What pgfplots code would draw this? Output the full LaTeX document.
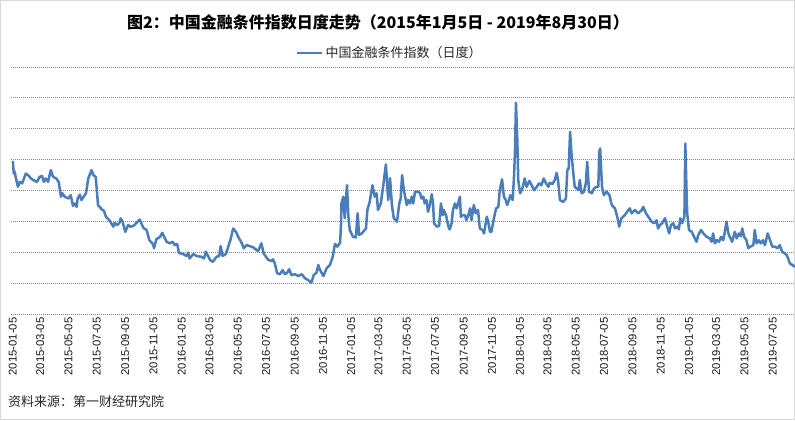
\documentclass[border=0pt]{standalone}
\usepackage{fontspec}
\usepackage{pgfplots}
\pgfplotsset{compat=1.18}
\newfontfamily\cjk{Noto Sans CJK SC}
\newfontfamily\tickfont{Liberation Sans}
\definecolor{fciblue}{RGB}{74,126,187}
\definecolor{gridgray}{RGB}{134,134,134}

\begin{document}
\begin{tikzpicture}[x=1bp,y=1bp]
\useasboundingbox (0,0) rectangle (795,420);
\draw[black!15, line width=0.8bp] (0.4,0.4) rectangle (794.6,419.6);
\begin{axis}[
    at={(11bp,106bp)}, anchor=south west,
    scale only axis, width=784bp, height=247bp,
    xmin=-4, xmax=1690, ymin=0, ymax=80,
    axis line style={draw=none},
    major tick length=0pt,
    ytick={0,10,...,80}, yticklabels={},
    ymajorgrids,
    major grid style={gridgray, line width=0.8bp, dash pattern=on 0.9bp off 1.1bp},
    % days since 2015-01-05
    xtick={0,59,120,181,243,304,365,425,486,547,609,670,731,790,851,912,974,1035,1096,1155,1216,1277,1339,1400,1461,1520,1581,1642},
    xticklabels={2015-01-05,2015-03-05,2015-05-05,2015-07-05,2015-09-05,2015-11-05,2016-01-05,2016-03-05,2016-05-05,2016-07-05,2016-09-05,2016-11-05,2017-01-05,2017-03-05,2017-05-05,2017-07-05,2017-09-05,2017-11-05,2018-01-05,2018-03-05,2018-05-05,2018-07-05,2018-09-05,2018-11-05,2019-01-05,2019-03-05,2019-05-05,2019-07-05},
    xticklabel style={rotate=90, anchor=east, font=\tickfont\fontsize{11.3bp}{13bp}\selectfont, text=black!90},
    legend style={at={(0.4834,1)}, anchor=center, yshift=14bp, draw=none, fill=none,
        font=\cjk\fontsize{13bp}{15bp}\selectfont, text=black!85},
    legend image code/.code={\draw[#1] (0bp,0bp) -- (25bp,0bp);},
    clip=false,
]
\addplot[fciblue, line width=2.5bp, line join=round] coordinates {
(0,49.6) (2,45.5) (4,46.1) (6,44.4) (11,41.2) (15,42.8) (20,42.3) (28,45.5) (35,44.7) (39,43.9)
(44,43.4) (52,42.8) (58,44.4) (63,44.7) (67,42.8) (71,43.9) (76,42.8) (82,46.6) (87,44.4) (94,43.9)
(99,42.8) (104,38.0) (107,39.1) (112,38.0) (120,37.4) (125,38.5) (130,35.0) (134,35.8) (138,34.7) (140,37.4)
(145,38.7) (148,36.9) (153,38.0) (158,39.1) (163,43.9) (170,46.6) (174,45.0) (179,44.4) (182,39.1) (184,35.3)
(192,33.9) (197,33.4) (201,31.5) (210,30.1) (217,28.3) (220,29.5) (225,28.8) (230,29.4) (233,31.0) (237,29.9)
(243,26.6) (249,28.8) (254,28.3) (260,28.5) (264,29.0) (274,30.6) (282,27.9) (289,27.2) (295,23.9) (303,22.6)
(305,21.3) (310,24.2) (318,25.0) (323,26.3) (332,23.4) (339,22.9) (345,23.4) (350,22.3) (355,22.7) (359,19.8)
(368,19.4) (375,18.8) (379,19.8) (382,18.0) (390,19.4) (397,18.8) (408,18.5) (413,18.0) (417,20.2) (426,17.5)
(432,16.9) (440,18.5) (446,18.8) (449,22.0) (453,18.8) (460,19.4) (465,21.6) (470,23.9) (476,27.7) (482,26.6)
(487,25.0) (494,23.1) (499,21.3) (505,22.3) (512,22.0) (519,21.6) (525,20.9) (530,20.4) (537,22.9) (542,19.6)
(548,18.3) (552,17.5) (559,17.2) (562,17.7) (566,16.4) (571,13.2) (577,12.9) (583,14.2) (588,12.9) (593,13.4)
(597,14.5) (602,12.6) (609,12.9) (617,12.3) (624,12.9) (631,11.6) (638,11.0) (645,10.1) (650,12.6) (656,13.4)
(660,15.9) (663,14.5) (671,12.3) (678,14.8) (685,15.9) (691,18.5) (696,22.7) (701,21.8) (707,23.1) (709,28.8)
(710,35.8) (714,38.0) (717,31.0) (722,41.7) (725,31.5) (728,27.2) (735,25.0) (741,24.8) (745,32.6) (748,25.6)
(754,26.1) (763,27.7) (766,33.7) (771,36.3) (777,41.7) (782,38.0) (786,39.1) (789,33.7) (795,35.8) (800,41.2)
(806,48.5) (811,36.9) (815,44.0) (819,35.3) (823,31.1) (830,29.9) (835,35.8) (838,37.4) (841,45.0) (845,40.1)
(847,38.5) (851,35.3) (854,36.9) (858,35.8) (862,38.0) (865,35.8) (869,39.6) (876,39.6) (880,39.1) (883,37.4)
(887,38.0) (890,35.8) (894,36.9) (897,33.1) (901,35.3) (905,38.8) (908,35.8) (910,29.4) (916,28.3) (921,28.5)
(925,35.8) (929,32.0) (931,33.7) (936,32.0) (941,28.3) (944,27.4) (948,29.4) (951,33.7) (955,35.8) (959,34.2)
(962,35.8) (966,38.0) (968,31.5) (972,32.0) (977,32.0) (980,30.4) (984,32.0) (988,34.2) (991,30.4) (996,35.3)
(1000,32.6) (1005,33.7) (1009,27.7) (1015,27.2) (1018,26.1) (1024,31.5) (1027,29.9) (1031,26.6) (1034,26.6) (1038,29.9)
(1044,34.2) (1049,34.7) (1052,40.1) (1057,43.6) (1061,38.0) (1065,36.9) (1068,35.3) (1072,36.9) (1075,38.5) (1080,36.9)
(1083,45.0) (1085,53.1) (1087,68.4) (1090,56.3) (1092,43.4) (1096,39.1) (1101,40.7) (1106,43.9) (1110,41.2) (1116,43.1)
(1121,41.7) (1126,40.1) (1132,41.2) (1137,42.3) (1142,41.7) (1147,43.9) (1152,42.3) (1157,41.2) (1160,42.5) (1166,42.1)
(1171,43.4) (1175,45.7) (1178,43.4) (1182,36.9) (1189,36.3) (1195,37.4) (1198,46.6) (1201,47.2) (1204,59.0) (1207,52.0)
(1211,45.5) (1214,41.2) (1222,40.1) (1225,43.4) (1229,39.1) (1234,39.6) (1238,42.3) (1241,49.3) (1245,39.6) (1251,39.1)
(1256,40.7) (1261,41.2) (1265,41.2) (1267,52.5) (1269,53.6) (1273,41.2) (1277,38.5) (1283,39.6) (1289,38.5) (1294,35.3)
(1301,34.2) (1306,31.5) (1310,28.3) (1315,31.0) (1322,32.0) (1330,33.7) (1333,34.2) (1337,32.6) (1344,33.7) (1351,32.6)
(1359,33.7) (1362,34.7) (1368,32.6) (1373,31.5) (1380,29.9) (1386,29.4) (1391,30.4) (1394,27.7) (1398,28.8) (1403,29.4)
(1409,31.0) (1413,28.8) (1418,26.1) (1422,28.8) (1427,29.4) (1431,27.7) (1436,28.3) (1439,27.4) (1442,31.0) (1446,29.4)
(1451,31.5) (1453,55.2) (1455,43.4) (1457,32.6) (1461,27.2) (1467,26.6) (1472,25.0) (1477,23.4) (1481,25.6) (1487,27.2)
(1492,26.1) (1499,25.0) (1506,24.5) (1510,23.4) (1513,26.1) (1517,22.9) (1521,23.9) (1526,23.4) (1530,25.0) (1535,23.9)
(1539,27.2) (1542,29.9) (1546,26.1) (1549,25.0) (1554,23.4) (1560,26.6) (1564,24.5) (1569,26.1) (1573,25.2) (1576,27.7)
(1580,25.0) (1585,23.9) (1589,21.3) (1593,21.8) (1600,22.3) (1603,27.2) (1607,22.9) (1612,23.9) (1616,22.9) (1621,23.9)
(1625,22.3) (1631,26.1) (1636,23.9) (1641,21.8) (1647,21.8) (1652,21.3) (1657,22.3) (1662,20.2) (1668,19.6) (1672,19.1)
(1675,18.0) (1679,16.4) (1684,15.9) (1690,15.3)
};
\addlegendentry{中国金融条件指数（日度）}
\end{axis}
\node[font=\cjk\bfseries\fontsize{16bp}{18bp}\selectfont, text=black] at (378,397.5)
    {图2：中国金融条件指数日度走势（2015年1月5日 - 2019年8月30日）};
\node[anchor=west, inner sep=0pt, font=\cjk\fontsize{13bp}{15bp}\selectfont, text=black!85] at (8,18)
    {资料来源：第一财经研究院};
\end{tikzpicture}
\end{document}
